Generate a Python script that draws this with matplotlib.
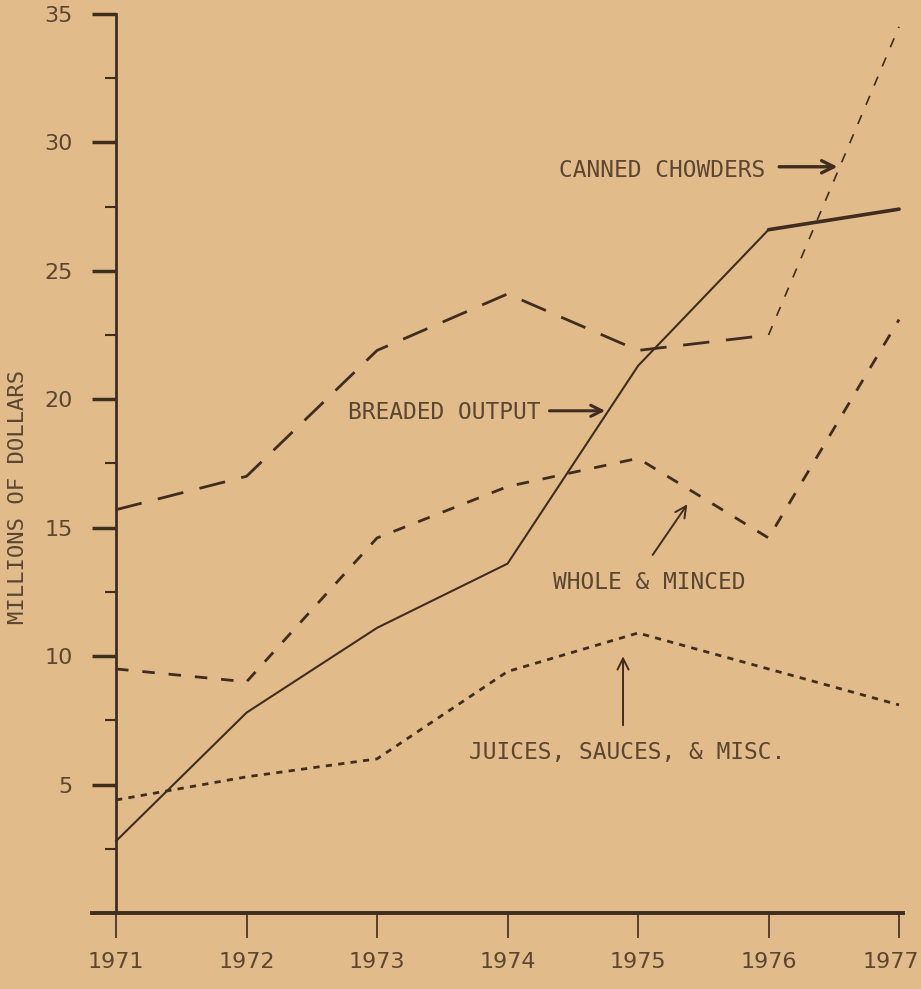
import numpy as np
import matplotlib.pyplot as plt
from matplotlib.transforms import ScaledTranslation

# values (millions of dollars)
years = [1971, 1972, 1973, 1974, 1975, 1976, 1977]
breaded = [2.8, 7.8, 11.1, 13.6, 21.3, 26.6, 27.4]
chowders = [15.7, 17.0, 21.9, 24.1, 21.9, 22.5, 34.5]
whole_minced = [9.5, 9.0, 14.6, 16.6, 17.7, 14.6, 23.1]
juices = [4.4, 5.3, 6.0, 9.4, 10.9, 9.5, 8.1]

y_major = [5, 10, 15, 20, 25, 30, 35]
y_minor = [2.5, 7.5, 12.5, 17.5, 22.5, 27.5, 32.5]

paper = "#e2bb8a"
ink = "#3f2d20"
txt = "#5b4632"

plt.rcParams['lines.scale_dashes'] = False
plt.rcParams['font.family'] = ['DejaVu Sans']

fig = plt.figure(figsize=(9.21, 9.89), dpi=100, facecolor=paper)
ax = fig.add_axes([0.0835, 0.0457, 0.9139, 0.948])
ax.set_facecolor(paper)
ax.set_xlim(1970.7, 1977.15)
ax.set_ylim(-1.2, 35.3)

# lines
ax.plot(years, breaded, color=ink, lw=1.5, solid_joinstyle='miter')
ax.plot(years[5:], breaded[5:], color=ink, lw=2.6, solid_capstyle='round')
ax.plot(years[:6], chowders[:6], color=ink, lw=2.0, dashes=(19, 12))
ax.plot(years[5:], chowders[5:], color=ink, lw=1.2, dashes=(7, 8))
ax.plot(years, whole_minced, color=ink, lw=2.0, dashes=(9, 10))
ax.plot(years, juices, color=ink, lw=2.0, dashes=(4.5, 4.5))

# axes drawn like the hand made ones
for s in ['top', 'right']:
    ax.spines[s].set_visible(False)
ax.spines['left'].set_position(('data', 1971))
ax.spines['bottom'].set_position(('data', 0))
ax.spines['left'].set_bounds(0, 35)
ax.spines['bottom'].set_bounds(1970.816, 1977.03)
ax.spines['left'].set_linewidth(2.0)
ax.spines['bottom'].set_linewidth(2.8)
ax.spines['left'].set_color(ink)
ax.spines['bottom'].set_color(ink)

ax.set_xticks(years)
ax.set_xticklabels([str(y) for y in years])
ax.set_yticks(y_major)
ax.set_yticklabels([str(v) for v in y_major])
ax.set_yticks(y_minor, minor=True)
ax.tick_params(axis='x', direction='out', length=18, width=1.2, color=ink,
               labelsize=16, labelcolor=txt, pad=10)
ax.tick_params(axis='y', which='major', direction='out', length=17, width=2.5,
               color=ink, labelsize=16, labelcolor=txt, pad=14)
ax.tick_params(axis='y', which='minor', direction='out', length=8, width=1.5,
               color=ink)
last = ax.get_xticklabels()[-1]
last.set_transform(last.get_transform() +
                   ScaledTranslation(-6 / 72, 0, fig.dpi_scale_trans))

fig.text(18 / 921, 1 - 497 / 989, "MILLIONS OF DOLLARS", rotation=90,
         ha='center', va='center', color=txt, fontsize=16,
         family='DejaVu Sans Mono')

lab = dict(color=txt, fontsize=16.5, family='DejaVu Sans Mono', va='center')
ax.text(1975.973, 28.9, "CANNED CHOWDERS", ha='right', **lab)
ax.annotate("", xy=(1976.55, 29.05), xytext=(1976.06, 29.05),
            arrowprops=dict(arrowstyle='->', color=ink, lw=2.4,
                            mutation_scale=22))
ax.text(1974.249, 19.5, "BREADED OUTPUT", ha='right', **lab)
ax.annotate("", xy=(1974.77, 19.55), xytext=(1974.30, 19.55),
            arrowprops=dict(arrowstyle='->', color=ink, lw=2.2,
                            mutation_scale=20))
ax.text(1975.084, 12.85, "WHOLE & MINCED", ha='center', **lab)
ax.annotate("", xy=(1975.39, 16.0), xytext=(1975.10, 13.85),
            arrowprops=dict(arrowstyle='->', color=ink, lw=1.4,
                            mutation_scale=20))
ax.text(1974.916, 6.23, "JUICES, SAUCES, & MISC.", ha='center', **lab)
ax.annotate("", xy=(1974.885, 10.1), xytext=(1974.885, 7.2),
            arrowprops=dict(arrowstyle='->', color=ink, lw=1.4,
                            mutation_scale=20))

fig.savefig("out.png", dpi=100, facecolor=paper)
